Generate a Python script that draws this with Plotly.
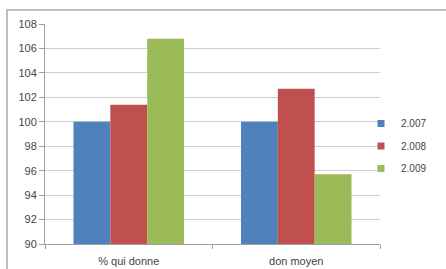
import plotly.graph_objects as go

categories = ["% qui donne", "don moyen"]
series_names = ["2.007", "2.008", "2.009"]
v2007 = [100.0, 100.0]
v2008 = [101.4, 102.7]
v2009 = [106.8, 95.7]
colors = ["#4F81BD", "#C0504D", "#9BBB59"]
y_ticks = [90, 92, 94, 96, 98, 100, 102, 104, 106, 108]

fig = go.Figure()
for name, vals, c in zip(series_names, [v2007, v2008, v2009], colors):
    fig.add_trace(go.Bar(x=categories, y=vals, name=name, marker_color=c,
                         marker_line_width=0, showlegend=False))
# legend entries with small square symbols
for name, c in zip(series_names, colors):
    fig.add_trace(go.Scatter(x=[None], y=[None], mode="markers", name=name,
                             legendgroup=name,
                             marker=dict(symbol="square", size=7, color=c)))

W, H = 446, 269
L, R, T, B = 45, 380, 24, 244
pw, ph = R - L, B - T

def px2x(p):
    return (p - L) / pw

def py2y(p):
    return (B - p) / ph

fig.update_layout(
    width=W, height=H,
    margin=dict(l=L, r=W - R, t=T, b=H - B, pad=0),
    paper_bgcolor="white", plot_bgcolor="white",
    barmode="group", bargap=0.34, bargroupgap=0,
    font=dict(family="Liberation Sans", size=11, color="#454545"),
    showlegend=True,
    legend=dict(x=px2x(361), y=py2y(109), xanchor="left", yanchor="top",
                font=dict(size=10, color="#454545"), itemwidth=30,
                bgcolor="rgba(0,0,0,0)", tracegroupgap=3.5),
    xaxis=dict(showline=True, linecolor="#A0A0A0", linewidth=1,
               ticks="outside", ticklen=4, tickcolor="#A0A0A0",
               tickson="boundaries", showgrid=False, fixedrange=True,
               ticklabelstandoff=7, automargin=False),
    yaxis=dict(range=[90, 108], tickvals=y_ticks, showline=True,
               linecolor="#A0A0A0", linewidth=1, ticks="outside",
               ticklen=5, tickcolor="#A0A0A0", showgrid=True,
               gridcolor="#CFCFCF", gridwidth=1, zeroline=False,
               fixedrange=True, automargin=False),
    shapes=[dict(type="rect", xref="paper", yref="paper",
                 x0=px2x(7), x1=px2x(452), y0=py2y(280), y1=py2y(10),
                 line=dict(color="#A8A8A8", width=1.5))],
)

fig.write_html("out.html", config={"displayModeBar": False, "staticPlot": True},
               post_script="document.body.style.margin='0';document.body.style.overflow='hidden';")
